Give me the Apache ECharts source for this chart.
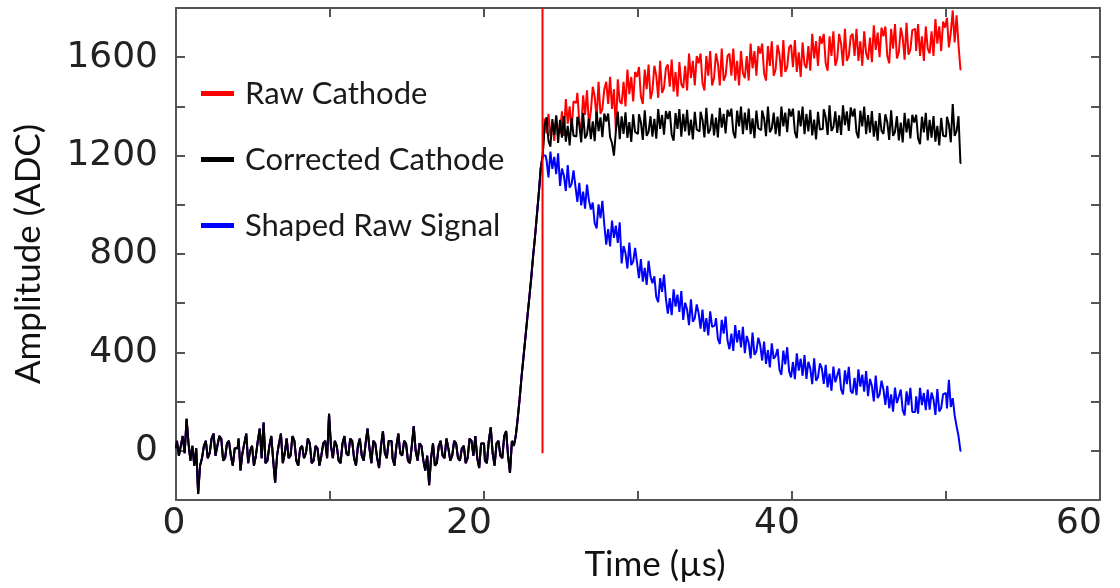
<!DOCTYPE html>
<html>
<head>
<meta charset="utf-8">
<script src="https://cdn.jsdelivr.net/npm/echarts@6/dist/echarts.min.js"></script>
<style>
  html, body { margin: 0; padding: 0; background: #fff; }
  #chart { width: 1120px; height: 588px; }
</style>
</head>
<body>
<div id="chart"></div>
<script>
// ---- Data ----
const seriesNames = ['Raw Cathode', 'Corrected Cathode', 'Shaped Raw Signal'];
const sampleStep = 0.125;         // µs between samples, first sample at t = 0
const xTickLabels = [0, 20, 40, 60];
const yTickLabels = [0, 400, 800, 1200, 1600];

// common pre-trigger baseline, t = 0 .. 21.875 µs (ADC)
const baseline = [
  10, 40, -20, 20, 60, -10, 130, 30, -40, 20, -60, 10, -175, -60, -30, 20,
  40, -30, -10, 50, 70, -20, 20, 60, 50, -40, -30, 30, 40, -20, -60, 10,
  10, 50, -80, -10, 30, 70, -50, 0, 20, -60, -20, 40, 90, -30, 115, -50,
  -40, 20, 60, -40, -130, -20, 30, 70, -50, -10, 50, -30, -20, 60, 40, -40,
  -60, 10, 20, -30, -10, 50, 30, -50, -40, 20, 10, -60, -20, 30, 40, -30,
  150, 20, -30, 40, 20, -40, -50, 30, 60, -10, -20, 50, 40, -30, -60, 20,
  50, -20, -40, 30, 90, 10, -50, 40, 30, -30, -70, 20, 80, -10, -30, 40,
  40, -30, -60, 20, 70, -10, -20, 40, 30, -40, -50, 20, 100, 0, -40, 30,
  20, -40, -80, -20, -140, -30, 30, -60, -50, 20, 40, -20, -30, 50, 10, -40,
  -20, 40, 30, -30, -40, 10, 20, -50, -30, 50, 40, -20, 60, -30, -70, 30,
  30, -40, -50, 40, 95, -10, -60, 30, 40, -20, -30, 60, 80, -20, -90, 40
];
// common leading edge, t = 22 .. 23.875 µs
const rise = [20, 60, 130, 210, 300, 380, 460, 540, 620, 700, 790, 870, 960, 1050, 1150, 1200];

// post-trigger tails, t = 24 .. 51 µs
const rawCathodeTail = [
  1350, 1290, 1370, 1280, 1330, 1260, 1360, 1300,
  1290, 1380, 1280, 1430, 1330, 1400, 1300, 1420,
  1415, 1455, 1335, 1305, 1445, 1365, 1465, 1325,
  1380, 1480, 1440, 1350, 1500, 1370, 1390, 1470,
  1500, 1410, 1520, 1390, 1470, 1300, 1510, 1420,
  1410, 1500, 1400, 1550, 1450, 1520, 1420, 1540,
  1520, 1560, 1440, 1410, 1550, 1470, 1570, 1430,
  1465, 1565, 1525, 1435, 1585, 1455, 1475, 1555,
  1570, 1480, 1590, 1460, 1540, 1440, 1580, 1490,
  1475, 1565, 1465, 1615, 1515, 1585, 1485, 1605,
  1575, 1615, 1495, 1465, 1605, 1525, 1625, 1485,
  1515, 1615, 1575, 1485, 1635, 1505, 1525, 1605,
  1615, 1525, 1635, 1505, 1585, 1485, 1625, 1535,
  1515, 1605, 1505, 1655, 1555, 1625, 1525, 1645,
  1615, 1655, 1535, 1505, 1645, 1565, 1665, 1525,
  1550, 1650, 1610, 1520, 1670, 1540, 1560, 1640,
  1650, 1560, 1670, 1540, 1620, 1520, 1660, 1570,
  1555, 1645, 1545, 1695, 1595, 1665, 1565, 1685,
  1655, 1695, 1575, 1545, 1685, 1605, 1705, 1565,
  1595, 1695, 1655, 1565, 1715, 1585, 1605, 1685,
  1695, 1605, 1715, 1585, 1665, 1565, 1705, 1615,
  1590, 1680, 1580, 1730, 1630, 1700, 1600, 1720,
  1685, 1725, 1605, 1575, 1715, 1635, 1735, 1595,
  1620, 1720, 1680, 1590, 1740, 1610, 1630, 1710,
  1715, 1625, 1735, 1605, 1685, 1585, 1725, 1635,
  1615, 1705, 1605, 1755, 1655, 1725, 1625, 1745,
  1720, 1760, 1640, 1700, 1790, 1660, 1770, 1650,
  1550
];
const correctedCathodeTail = [
  1324, 1356, 1260, 1236, 1348, 1284, 1364, 1252,
  1345, 1273, 1361, 1257, 1321, 1241, 1353, 1281,
  1278, 1358, 1326, 1254, 1374, 1270, 1286, 1350,
  1267, 1339, 1259, 1379, 1299, 1355, 1275, 1371,
  1339, 1371, 1275, 1251, 1200, 1299, 1379, 1267,
  1360, 1288, 1376, 1272, 1336, 1256, 1368, 1296,
  1288, 1368, 1336, 1264, 1384, 1280, 1296, 1360,
  1277, 1349, 1269, 1389, 1309, 1365, 1285, 1381,
  1349, 1381, 1285, 1261, 1373, 1309, 1389, 1277,
  1370, 1298, 1386, 1282, 1346, 1266, 1378, 1306,
  1298, 1378, 1346, 1274, 1394, 1290, 1306, 1370,
  1282, 1354, 1274, 1394, 1314, 1370, 1290, 1386,
  1359, 1391, 1295, 1271, 1383, 1319, 1399, 1287,
  1375, 1303, 1391, 1287, 1351, 1271, 1383, 1311,
  1303, 1383, 1351, 1279, 1399, 1295, 1311, 1375,
  1287, 1359, 1279, 1399, 1319, 1375, 1295, 1391,
  1359, 1391, 1295, 1271, 1383, 1319, 1399, 1287,
  1370, 1298, 1386, 1282, 1346, 1266, 1378, 1306,
  1308, 1388, 1356, 1284, 1404, 1300, 1316, 1380,
  1292, 1364, 1284, 1404, 1324, 1380, 1300, 1396,
  1359, 1391, 1295, 1271, 1383, 1319, 1399, 1287,
  1365, 1293, 1381, 1277, 1341, 1261, 1373, 1301,
  1288, 1368, 1336, 1264, 1384, 1280, 1296, 1360,
  1262, 1334, 1254, 1374, 1294, 1350, 1270, 1366,
  1334, 1366, 1270, 1246, 1358, 1294, 1374, 1262,
  1345, 1273, 1361, 1257, 1321, 1241, 1353, 1281,
  1278, 1358, 1326, 1254, 1410, 1280, 1300, 1360,
  1170
];
const shapedRawTail = [
  1200, 1181, 1111, 1216, 1146, 1195, 1125, 1209,
  1077, 1147, 1119, 1056, 1161, 1070, 1084, 1140,
  1075, 1012, 1089, 998, 1054, 984, 1082, 1019,
  981, 1009, 925, 904, 1002, 946, 1016, 918,
  838, 901, 831, 936, 866, 915, 845, 929,
  762, 832, 804, 741, 846, 755, 769, 825,
  765, 702, 779, 688, 744, 674, 772, 709,
  681, 709, 625, 604, 702, 646, 716, 618,
  558, 621, 551, 656, 586, 635, 565, 649,
  532, 602, 574, 511, 616, 525, 539, 595,
  560, 497, 574, 483, 539, 469, 567, 504,
  511, 539, 455, 434, 532, 476, 546, 448,
  413, 476, 406, 511, 441, 490, 420, 504,
  397, 467, 439, 376, 481, 390, 404, 460,
  430, 367, 444, 353, 409, 339, 437, 374,
  386, 414, 330, 309, 407, 351, 421, 323,
  298, 361, 291, 396, 326, 375, 305, 389,
  292, 362, 334, 271, 376, 285, 299, 355,
  335, 272, 349, 258, 314, 244, 342, 279,
  306, 334, 250, 229, 327, 271, 341, 243,
  233, 296, 226, 331, 261, 310, 240, 324,
  222, 292, 264, 201, 306, 215, 229, 285,
  250, 187, 264, 173, 229, 159, 257, 194,
  221, 249, 165, 144, 242, 186, 256, 158,
  158, 221, 151, 256, 186, 235, 165, 249,
  167, 237, 209, 146, 251, 160, 174, 230,
  235, 172, 289, 178, 214, 144, 100, 60,
  0
];

// trigger marker (vertical red line)
const triggerTime = [23.8, 23.8];
const triggerLevel = [-10, 1800];

// ---- Build series points through the value axes ----
function buildPoints(tail) {
  const ys = baseline.concat(rise, tail);
  return ys.map((y, i) => [i * sampleStep, y]);
}

const axisColor = '#555';
const tickFont = 'DejaVu Sans';
const textFont = 'Lato';

const chart = echarts.init(document.getElementById('chart'), null, { renderer: 'canvas' });

const baseAxis = {
  axisLine: { show: true, onZero: false, lineStyle: { color: axisColor, width: 2 } },
  axisTick: { show: true, inside: true, length: 9, lineStyle: { color: axisColor, width: 2 } },
  splitLine: { show: false }
};

const xLabelStyle = { fontFamily: tickFont, fontSize: 36, color: '#222' };

chart.setOption({
  animation: false,
  backgroundColor: '#ffffff',
  grid: { left: 176, right: 20, top: 8, bottom: 88, containLabel: false },
  legend: {
    data: seriesNames,
    orient: 'vertical',
    left: 196,
    top: 73,
    itemGap: 35,
    itemWidth: 33,
    itemHeight: 5,
    icon: 'rect',
    textStyle: { fontFamily: textFont, fontSize: 31, color: '#1a1a1a', padding: [0, 0, 0, 6] }
  },
  xAxis: [
    Object.assign({}, baseAxis, {
      type: 'value', min: 0, max: 60, interval: 10, position: 'bottom',
      axisLabel: {
        formatter: v => {
          if (xTickLabels.indexOf(v) < 0) return '';
          const key = v === 0 ? 'a' : (v === 60 ? 'c' : 'b');
          return '{' + key + '|' + v + '}';
        },
        margin: 6,
        rich: {
          a: Object.assign({ padding: [0, 4, 0, 0] }, xLabelStyle),
          b: Object.assign({ padding: [0, 30, 0, 0] }, xLabelStyle),
          c: Object.assign({ padding: [0, 42, 0, 0] }, xLabelStyle)
        }
      },
      name: 'Time (µs)', nameLocation: 'middle', nameGap: 46,
      nameTextStyle: { fontFamily: textFont, fontSize: 35, color: '#111', padding: [0, 0, 0, 34] }
    }),
    Object.assign({}, baseAxis, {
      type: 'value', min: 0, max: 60, interval: 10, position: 'top',
      axisLabel: { show: false }
    })
  ],
  yAxis: [
    Object.assign({}, baseAxis, {
      type: 'value', min: -200, max: 1800, interval: 200, position: 'left',
      axisLabel: {
        formatter: v => (yTickLabels.indexOf(v) >= 0 ? String(v) : ''),
        fontFamily: tickFont, fontSize: 36, color: '#222', margin: 18
      },
      name: 'Amplitude (ADC)', nameLocation: 'middle', nameGap: 130, nameRotate: 90,
      nameTextStyle: { fontFamily: textFont, fontSize: 35, color: '#111' }
    }),
    Object.assign({}, baseAxis, {
      type: 'value', min: -200, max: 1800, interval: 200, position: 'right',
      axisLabel: { show: false }
    })
  ],
  series: [
    {
      name: seriesNames[0], type: 'line', step: 'middle', showSymbol: false,
      data: buildPoints(rawCathodeTail), color: '#ff0000',
      lineStyle: { color: '#ff0000', width: 2 }
    },
    {
      name: seriesNames[2], type: 'line', step: 'middle', showSymbol: false,
      data: buildPoints(shapedRawTail), color: '#0000ff',
      lineStyle: { color: '#0000ff', width: 2 }
    },
    {
      name: seriesNames[1], type: 'line', step: 'middle', showSymbol: false,
      data: buildPoints(correctedCathodeTail), color: '#000000',
      lineStyle: { color: '#000000', width: 2 }
    },
    {
      name: 'trigger', type: 'line', showSymbol: false, silent: true,
      data: triggerTime.map((t, i) => [t, triggerLevel[i]]),
      lineStyle: { color: '#ff0000', width: 2 }, color: '#ff0000'
    }
  ]
});
</script>
</body>
</html>
